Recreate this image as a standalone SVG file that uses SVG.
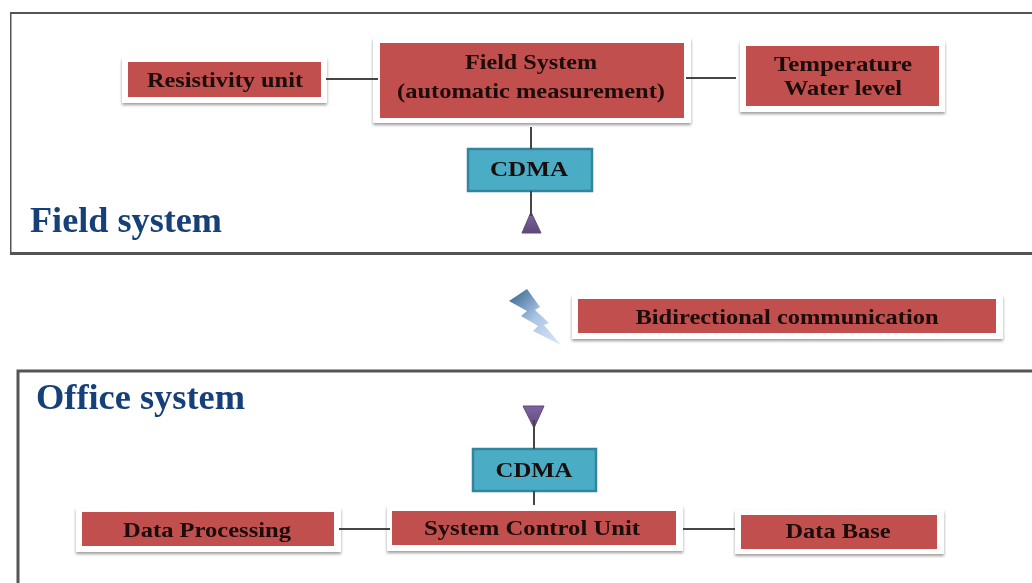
<svg xmlns="http://www.w3.org/2000/svg" width="1032" height="583" viewBox="0 0 1032 583">
<style>
.frame{fill:#fff;stroke:#555;stroke-width:3}
.card{fill:#fff;filter:url(#sh)}
.red{fill:#c0504d}
.teal{fill:#4bacc6;stroke:#31859c;stroke-width:2.5}
.t{font-family:"Liberation Serif",serif;font-weight:bold;font-size:22px;fill:#1a0a0a;text-anchor:middle}
.h{font-family:"Liberation Serif",serif;font-weight:bold;font-size:35px;fill:#17407a}
.c{stroke:#444;stroke-width:2;fill:none}
.tri{fill:url(#pur);stroke:#5f497a;stroke-width:1}
</style>
<defs>
<filter id="sh" x="-5%" y="-15%" width="110%" height="135%"><feDropShadow dx="0" dy="2" stdDeviation="1.6" flood-color="#666" flood-opacity=".65"/></filter>
<filter id="soft" x="0" y="0" width="100%" height="100%"><feGaussianBlur stdDeviation=".45"/></filter>
<linearGradient id="pur" x1="0" y1="0" x2="0" y2="1"><stop offset="0" stop-color="#8064a2"/><stop offset="1" stop-color="#5f497a"/></linearGradient>
<linearGradient id="bolt" x1="0" y1="0" x2="1" y2="1"><stop offset="0" stop-color="#2f5f8a"/><stop offset=".5" stop-color="#a9c4e4"/><stop offset="1" stop-color="#dce9f7"/></linearGradient>
</defs>
<g filter="url(#soft)">
<rect class="frame" x="10" y="12.500" width="1030" height="241"/>
<rect class="frame" x="18" y="371" width="1030" height="230"/>
<g id="resistivity-unit"><rect class="card" x="122" y="58" width="205" height="45"/><rect class="red" x="128" y="62" width="193" height="35"/><text class="t" x="225" y="87" textLength="156" lengthAdjust="spacingAndGlyphs">Resistivity unit</text></g>
<g id="field-system"><rect class="card" x="373" y="38" width="318" height="85"/><rect class="red" x="380" y="43" width="304" height="75"/><text class="t" x="531" y="69" textLength="132" lengthAdjust="spacingAndGlyphs">Field System</text><text class="t" x="531" y="98" textLength="268" lengthAdjust="spacingAndGlyphs">(automatic measurement)</text></g>
<g id="temperature"><rect class="card" x="740" y="41" width="205" height="71"/><rect class="red" x="746" y="46" width="193" height="60"/><text class="t" x="843" y="71" textLength="138" lengthAdjust="spacingAndGlyphs">Temperature</text><text class="t" x="843" y="95" textLength="118" lengthAdjust="spacingAndGlyphs">Water level</text></g>
<g id="cdma-field"><rect class="teal" x="468" y="149" width="124" height="42"/><text class="t" x="529" y="176" textLength="78" lengthAdjust="spacingAndGlyphs">CDMA</text></g>
<g id="antenna-field"><polygon class="tri" points="531,212 541,233 522,233"/></g>
<text class="h" x="30" y="232" textLength="192" lengthAdjust="spacingAndGlyphs">Field system</text>
<g id="bolt"><polygon fill="url(#bolt)" points="509,301 527,289 540,307 535,310 549,323 544,325 561,345 533,331 538,326 521,316 527,311"/></g>
<g id="bidirectional"><rect class="card" x="572" y="295" width="431" height="44"/><rect class="red" x="578" y="299" width="418" height="34"/><text class="t" x="787" y="324" textLength="303" lengthAdjust="spacingAndGlyphs">Bidirectional communication</text></g>
<text class="h" x="36" y="409" textLength="209" lengthAdjust="spacingAndGlyphs">Office system</text>
<g id="antenna-office"><polygon class="tri" points="523,406 544,406 534,428"/></g>
<g id="cdma-office"><rect class="teal" x="473" y="449" width="123" height="42"/><text class="t" x="534" y="477" textLength="77" lengthAdjust="spacingAndGlyphs">CDMA</text></g>
<g id="data-processing"><rect class="card" x="76" y="508" width="265" height="44"/><rect class="red" x="82" y="512" width="252" height="34"/><text class="t" x="207" y="537" textLength="168" lengthAdjust="spacingAndGlyphs">Data Processing</text></g>
<g id="system-control-unit"><rect class="card" x="387" y="506" width="296" height="45"/><rect class="red" x="392" y="511" width="284" height="34"/><text class="t" x="532" y="535" textLength="216" lengthAdjust="spacingAndGlyphs">System Control Unit</text></g>
<g id="data-base"><rect class="card" x="735" y="510" width="209" height="44"/><rect class="red" x="741" y="515" width="196" height="34"/><text class="t" x="838" y="538" textLength="105" lengthAdjust="spacingAndGlyphs">Data Base</text></g>
<g id="connectors">
<path class="c" d="M326 79H378M686 78H736M531 127V149M531 191V216M534 420V449M534 491V505M339 529H390M683 529H735"/>
</g>
</g>
</svg>
